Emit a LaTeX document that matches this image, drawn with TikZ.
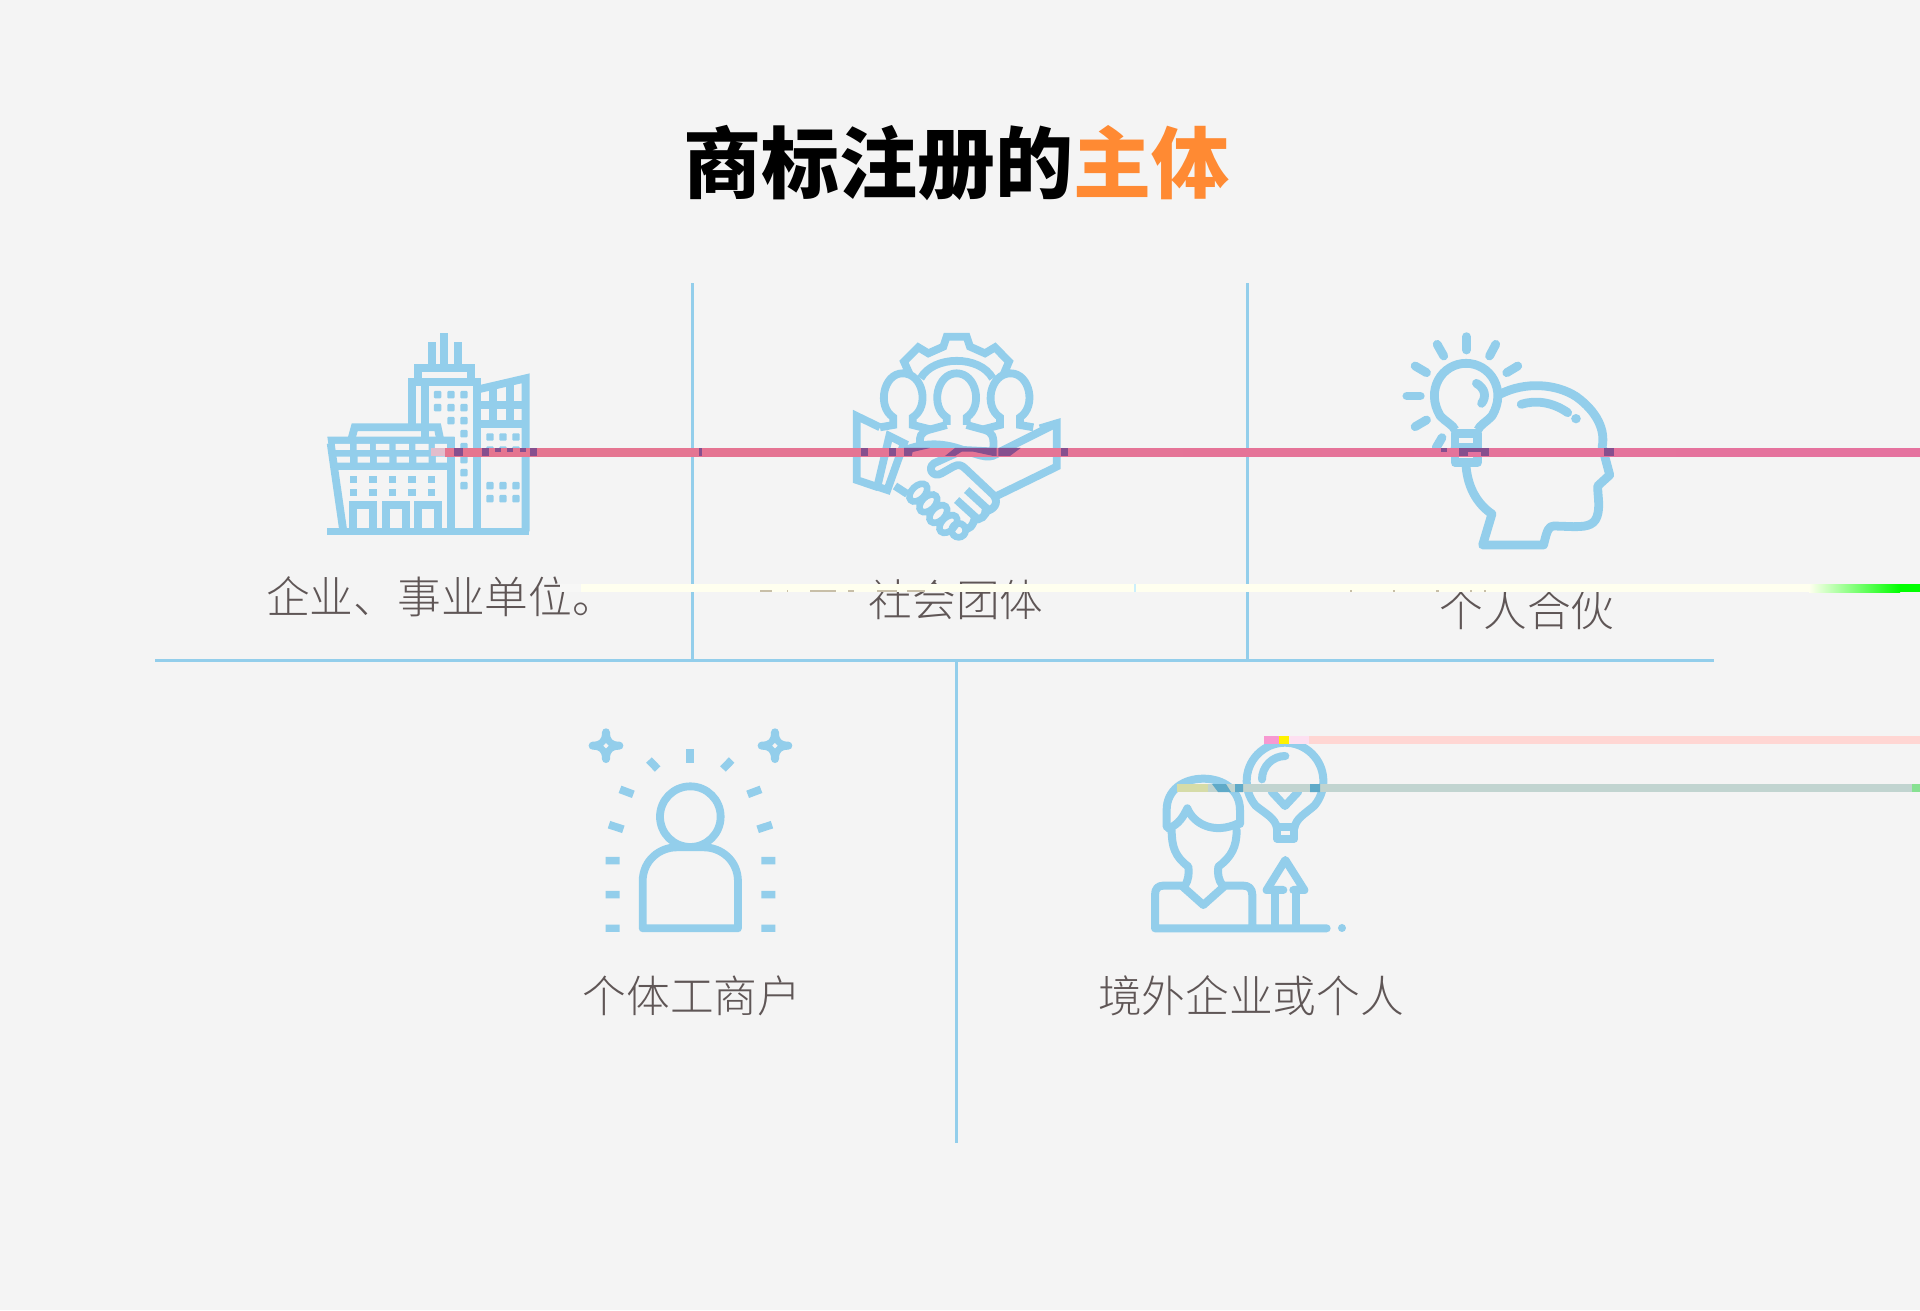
\documentclass[tikz,border=0pt]{standalone}
\usepackage{fontspec}
\usetikzlibrary{calc}
\newfontfamily\cjkbold{Noto Sans CJK SC Black}
\newfontfamily\cjklight{Noto Sans CJK SC Light}
\definecolor{pagegray}{HTML}{F4F4F4}
\definecolor{iconblue}{HTML}{93CEEB}
\definecolor{titleorange}{HTML}{FF8A33}
\definecolor{labelgray}{HTML}{5F5656}
\definecolor{barpink}{HTML}{E5758F}
\definecolor{barmagenta}{HTML}{E5729F}
\definecolor{barpurple}{HTML}{864F8E}
\definecolor{barcream}{HTML}{FFFFEF}
\definecolor{barrose}{HTML}{FFD6D3}
\definecolor{barsage}{HTML}{C1D4D0}
\definecolor{barteal}{HTML}{5FAAC8}
\definecolor{bargreen}{HTML}{00FF00}
\definecolor{bartan}{HTML}{C8BFA8}
\tikzset{
	divider/.style={draw=iconblue, line width=3pt},
	icon/.style={draw=iconblue, line width=7.8pt},
	roundicon/.style={draw=iconblue, line width=8.8pt, line cap=round, line join=round},
	thinround/.style={roundicon, line width=8pt},
	pane/.style={x=0.3333pt, y=-0.3333pt},
	itemlabel/.style={text=labelgray, font=\cjklight\fontsize{43.7}{43.7}\selectfont, inner sep=0pt},
}
\begin{document}
\begin{tikzpicture}[x=1pt, y=-1pt]
\useasboundingbox (0,0) rectangle (1920,1310);
\fill[pagegray] (0,0) rectangle (1920,1310);

% Title
\node[inner sep=0pt, font=\cjkbold\fontsize{78}{78}\selectfont] (title) at (956,163) {商标注册的\textcolor{titleorange}{主体}};

% Dividers
\coordinate (rowl) at (155,660);
\coordinate (rowr) at (1714,660);
\coordinate (topa) at (692,283);
\coordinate (bota) at (692,660);
\coordinate (topb) at (1247.5,283);
\coordinate (botb) at (1247.5,660);
\coordinate (topc) at (956,660);
\coordinate (botc) at (956,1143);
\draw[divider] (rowl) -- (rowr);
\draw[divider] (topa) -- (bota);
\draw[divider] (topb) -- (botb);
\draw[divider] (topc) -- (botc);

% Labels
\node[itemlabel] (unit) at (441,597) {企业、事业单位。};
\node[itemlabel] (group) at (956,600) {社会团体};
\node[itemlabel] (partner) at (1527,610) {个人合伙};
\node[itemlabel] (trader) at (692,996) {个体工商户};
\node[itemlabel] (foreign) at (1251,996) {境外企业或个人};

% Building
\begin{scope}[shift={(300,310)}, pane]
\fill[iconblue] (82,654) rectangle (687,674);
\draw[icon] (395,175) -- (395,97) (433,175) -- (433,70) (473,175) -- (473,97);
\draw[icon] (355,215) -- (355,175) -- (512,175) -- (512,215);
\draw[icon] (335,350) -- (335,215) -- (531,215) -- (531,664);
\draw[icon] (375,215) -- (375,380);
\draw[icon] (535,238) -- (677,205) -- (677,664);
\draw[icon] (531,284) -- (677,284) (531,342) -- (677,342);
\draw[icon] (580,232) -- (580,342) (629,220) -- (629,342);
\draw[icon] (155,385) -- (164,352) -- (413,352) -- (420,385);
\fill[iconblue] (82,380) -- (463,380) -- (463,480) -- (96,480) -- cycle;
\foreach \x/\w in {105/45,170/40,228/40,287/40,346/40,405/38}
	\fill[pagegray] (\x,402) rectangle ++(\w,18) (\x+3,440) rectangle ++(\w-3,18);
\draw[icon] (92,400) -- (130,664);
\draw[icon] (453,380) -- (453,664);
\foreach \x/\y in {160/220,257/317,355/415}
	\draw[icon] (\x,664) -- (\x,585) -- (\y,585) -- (\y,664);
\foreach \x in {160,219,277,336,395}
	\foreach \y in {508,547}
		\fill[iconblue] (\x-11,\y-11) rectangle ++(22,22);
\foreach \x/\y in {413/254,453/254,492/254,413/293,453/293,492/293,453/332,492/332,492/371,492/410,492/449,492/488,492/527}
	\fill[iconblue, rounded corners=1pt] (\x-11,\y-11) rectangle ++(22,22);
\foreach \x in {570,609,648}
	\foreach \y in {381,420,527,566}
		\fill[iconblue, rounded corners=1pt] (\x-11,\y-11) rectangle ++(22,22);
\end{scope}

% Handshake
\begin{scope}[shift={(830,310)}, pane]
\draw[icon] (240,195) -- (222,155) -- (265,112) -- (295,130) -- (340,110) -- (350,80) -- (410,80) -- (420,110) -- (465,130) -- (495,112) -- (537,155) -- (520,195);
\draw[icon] (272,205) .. controls (310,135) and (450,135) .. (488,205);
\draw[icon] (350,345) -- (350,322) .. controls (300,290) and (320,190) .. (380,190) .. controls (440,190) and (460,290) .. (410,322) -- (410,345);
\draw[icon] (350,345) -- (295,360) .. controls (272,368) and (268,380) .. (270,400);
\draw[icon] (410,345) -- (465,360) .. controls (488,368) and (492,380) .. (490,415);
\draw[icon] (150,352) -- (190,345) -- (190,322) .. controls (140,290) and (160,190) .. (218,190) .. controls (280,190) and (300,290) .. (248,322) -- (248,345) -- (300,358);
\draw[icon] (610,352) -- (570,345) -- (570,322) .. controls (620,290) and (600,190) .. (542,190) .. controls (480,190) and (460,290) .. (510,322) -- (510,345) -- (460,358);
\draw[icon] (150,352) -- (80,318) -- (80,510) -- (145,532);
\draw[icon] (178,378) -- (222,400) -- (172,540) -- (142,530) -- cycle;
\draw[icon] (630,355) -- (680,340) -- (680,470) -- (500,558);
\draw[icon] (500,430) -- (680,340);
\draw[icon] (225,420) .. controls (280,400) and (330,395) .. (400,420) .. controls (460,440) and (480,450) .. (510,425);
\draw[icon, line cap=round, line join=round] (500,425) -- (400,420) -- (312,460) .. controls (290,475) and (310,505) .. (335,490) -- (370,470) .. controls (385,462) and (395,465) .. (405,475) -- (490,555) .. controls (510,580) and (490,600) .. (465,605);
\draw[icon] (410,540) -- (470,595) .. controls (470,620) and (450,630) .. (430,630);
\draw[icon] (380,570) -- (435,620) .. controls (430,650) and (415,660) .. (405,655);
\draw[icon] (195,528) -- (232,552);
\foreach \x/\y in {265/548,295/580,325/612,355/642}
	\draw[icon, line width=6.6pt, rotate around={45:(\x,\y)}] (\x,\y) ellipse (32 and 20);
\draw[icon, line width=6.6pt] (386,661) circle (21);
\end{scope}

% Head with bulb
\begin{scope}[shift={(1380,310)}, pane, x=0.3444pt]
\foreach \a/\b/\c/\d in {251/80/251/120,166/103/185/138,336/103/318/138,102/168/135/188,400/168/368/188,78/258/117/258,102/350/135/330,180/383/163/413}
	\draw[roundicon] (\a,\b) -- (\c,\d);
\draw[roundicon, line cap=butt] (218,360) .. controls (212,345) and (190,335) .. (175,318) .. controls (130,240) and (180,160) .. (250,160) .. controls (320,160) and (370,240) .. (325,318) .. controls (310,335) and (290,345) .. (284,360);
\draw[roundicon] (218,370) rectangle (283,458);
\draw[roundicon] (218,412) -- (283,412);
\draw[roundicon] (280,220) .. controls (305,235) and (310,260) .. (295,280);
\draw[roundicon, line cap=butt] (350,252) .. controls (420,215) and (510,220) .. (570,260) .. controls (630,305) and (655,360) .. (645,410) -- (667,495) -- (632,528) .. controls (632,560) and (640,590) .. (630,620) .. controls (620,650) and (590,650) .. (560,650) -- (505,648) .. controls (490,648) and (485,660) .. (475,705) -- (298,705) -- (325,612) .. controls (280,580) and (255,530) .. (250,470);
\draw[roundicon] (410,283) .. controls (450,270) and (500,275) .. (545,308);
\fill[iconblue] (569,326) circle (14);
\end{scope}

% Person
\begin{scope}[shift={(570,710)}, pane]
\draw[icon] (361,320) circle (91);
\draw[icon, line join=round] (218,655) -- (218,515) .. controls (218,450) and (270,412) .. (320,412) -- (402,412) .. controls (452,412) and (504,450) .. (504,515) -- (504,655) -- cycle;
\foreach \a/\b/\c/\d in {361/117/361/158,237/150/263/177,485/150/459/177,150/238/190/253,573/238/533/253,117/344/160/358,606/344/563/358}
	\draw[icon] (\a,\b) -- (\c,\d);
\foreach \y in {452,554,655}
	\fill[iconblue] (107,\y-11) rectangle ++(42,22) (574,\y-11) rectangle ++(42,22);
\foreach \x in {108,615}
	\draw[thinround, fill=iconblue] (\x,67) .. controls (\x,95) and (\x+12,107) .. (\x+40,107) .. controls (\x+12,107) and (\x,119) .. (\x,147) .. controls (\x,119) and (\x-12,107) .. (\x-40,107) .. controls (\x-12,107) and (\x,95) .. (\x,67) -- cycle;
\foreach \x in {108,615}
	\fill[pagegray] (\x,99) -- (\x+8,107) -- (\x,115) -- (\x-8,107) -- cycle;
\end{scope}

% Man with bulb
\begin{scope}[shift={(1130,720)}, pane]
\draw[thinround, line cap=butt] (441,325) .. controls (437,295) and (405,280) .. (377,257) arc[start angle=140, end angle=400, radius=115] .. controls (527,280) and (497,295) .. (493,325);
\draw[thinround] (441,322) rectangle (493,356);
\draw[thinround] (396,178) arc[start angle=180, end angle=270, radius=70];
\draw[thinround] (425,215) -- (465,258) -- (505,215);
\draw[thinround] (110,320) -- (110,270) .. controls (110,210) and (160,176) .. (220,176) .. controls (280,176) and (330,210) .. (330,270) -- (330,312);
\draw[thinround] (115,325) .. controls (145,315) and (160,290) .. (172,265) .. controls (190,310) and (250,345) .. (325,310);
\draw[thinround] (125,330) .. controls (125,380) and (135,410) .. (175,440) .. controls (178,460) and (175,480) .. (165,497);
\draw[thinround] (320,330) .. controls (320,380) and (305,410) .. (265,440) .. controls (262,460) and (265,480) .. (278,497);
\draw[thinround] (367,625) -- (367,525) .. controls (367,505) and (355,497) .. (340,497) -- (285,497) -- (220,555) -- (155,497) -- (100,497) .. controls (85,497) and (75,505) .. (75,525) -- (75,625) -- (590,625);
\fill[iconblue] (636,624) circle (12);
\draw[thinround] (435,620) -- (435,510) (497,620) -- (497,510);
\draw[thinround] (460,510) -- (410,510) -- (466,420) -- (523,510) -- (490,510);
\end{scope}

% Pink band
\fill[black!20!barmagenta!40!white] (431,448) rectangle (445,456);
\shade[left color=barpink, right color=barmagenta] (445,448) rectangle (1920,456);
\foreach \x/\w in {454/9,482/7,530/7,699/3,861/7,889/7,905/7,1061/7,1459/30,1604/10}
	\fill[barpurple] (\x,448) rectangle ++(\w,8);
\foreach \x in {495,507,520,1441}
	\fill[barpurple] (\x,448) rectangle ++(6,4);
\fill[barmagenta] (1468,452) rectangle (1481,456);
\begin{scope}[shift={(830,310)}, pane]
\fill[barpurple] (222,414) -- (300,414) -- (248,426) -- (245,438) -- (222,438) -- cycle;
\fill[barpurple] (345,438) -- (375,414) -- (500,414) -- (500,438) -- (490,438) -- (430,425) -- (395,425) -- (375,438) -- cycle;
\fill[barpurple] (505,414) -- (572,414) -- (540,438) -- (505,438) -- cycle;
\end{scope}

% Cream band
\fill[barcream!70!black!10!white] (560,584) rectangle (581,592);
\fill[barcream] (581,584) rectangle (1809,592);
\shade[left color=barcream, right color=bargreen] (1809,584) rectangle (1900,592);
\fill[bargreen] (1900,584) rectangle (1920,592);
\fill[cyan!20] (1134,584) rectangle ++(2,8);
\foreach \x/\w in {760/12,787/1,810/26,848/6,877/20,907/18,1350/2,1393/2,1436/3,1470/2,1484/2}
	\fill[bartan] (\x,590) rectangle ++(\w,2);

% Rose band
\fill[magenta!40!white] (1264,736) rectangle (1279,744);
\fill[yellow] (1279,736) rectangle (1289,744);
\fill[magenta!12!white] (1289,736) rectangle (1309,744);
\fill[barrose] (1309,736) rectangle (1920,744);

% Sage band
\fill[yellow!25!barsage] (1177,784) rectangle (1208,792);
\fill[barsage] (1208,784) rectangle (1912,792);
\fill[green!30!barsage] (1912,784) rectangle (1920,792);
\fill[barteal] (1212,784) -- (1226,784) -- (1231,792) -- (1218,792) -- cycle;
\fill[barteal] (1235,784) rectangle ++(8,8) (1310,784) rectangle ++(10,8);
\end{tikzpicture}
\end{document}
